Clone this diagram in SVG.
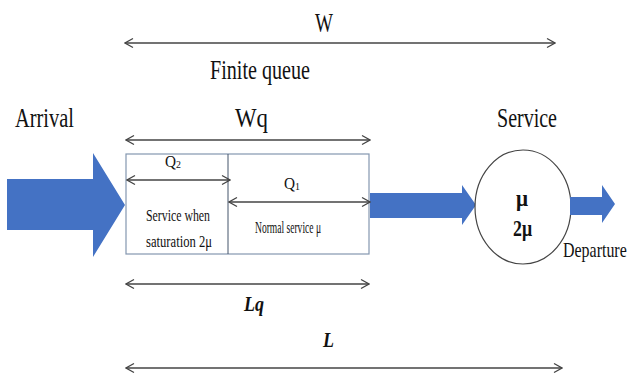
<svg xmlns="http://www.w3.org/2000/svg" width="631" height="376" viewBox="0 0 631 376">
<style>
text{font-family:"Liberation Serif","Times New Roman",serif;fill:#111}
.big{font-size:28px}
.sm{font-size:16px}
.q{font-size:17px}
.bi{font-size:21px;font-weight:bold;font-style:italic}
.mu{font-size:24px;font-weight:bold}
.dim{stroke:#444;stroke-width:1.5;fill:none}
.blue{fill:#4472c4}
</style>
<defs>
<marker id="ah" viewBox="0 0 10 10" refX="9" refY="5" markerWidth="10" markerHeight="10" markerUnits="userSpaceOnUse" orient="auto-start-reverse">
<path d="M1,0.5 L9,5 L1,9.5" fill="none" stroke="#444" stroke-width="1.2"/>
</marker>
</defs>
<rect width="631" height="376" fill="#fff"/>

<g id="arrival-arrow">
<polygon class="blue" points="7,179 93,179 93,153 125,205 93,257 93,230 7,230"/>
</g>
<g id="queue">
<rect x="126" y="154" width="243" height="100" fill="#fff" stroke="#8497b0" stroke-width="1.2"/>
<line x1="228" y1="154" x2="228" y2="254" stroke="#44546a" stroke-width="1"/>
<text class="q" x="165" y="167" textLength="16" lengthAdjust="spacingAndGlyphs">Q<tspan font-size="11" dy="1">2</tspan></text>
<text class="q" x="284" y="189" textLength="16" lengthAdjust="spacingAndGlyphs">Q<tspan font-size="11" dy="1">1</tspan></text>
<text class="sm" x="146" y="221" textLength="64" lengthAdjust="spacingAndGlyphs">Service when</text>
<text class="sm" x="146" y="247" textLength="66" lengthAdjust="spacingAndGlyphs">saturation 2μ</text>
<text class="sm" x="255" y="233" textLength="66" lengthAdjust="spacingAndGlyphs">Normal service μ</text>
</g>
<g id="mid-arrow">
<polygon class="blue" points="370,193 462,193 462,185 476,205 462,225 462,218 370,218"/>
</g>
<g id="server">
<ellipse cx="523" cy="207" rx="48" ry="57" fill="#fff" stroke="#444" stroke-width="1.2"/>
<text class="mu" x="516" y="206" textLength="12" lengthAdjust="spacingAndGlyphs">μ</text>
<text class="mu" x="513" y="236" textLength="19" lengthAdjust="spacingAndGlyphs">2μ</text>
</g>
<g id="departure-arrow">
<polygon class="blue" points="570,197 602,197 602,185 615,204 602,223 602,215 570,215"/>
</g>

<g id="connectors">
<line class="dim" x1="125" y1="43" x2="555" y2="43" marker-start="url(#ah)" marker-end="url(#ah)"/>
<line class="dim" x1="126" y1="140" x2="370" y2="140" marker-start="url(#ah)" marker-end="url(#ah)"/>
<line class="dim" x1="127" y1="180" x2="230" y2="180" marker-start="url(#ah)" marker-end="url(#ah)"/>
<line class="dim" x1="229" y1="202" x2="370" y2="202" marker-start="url(#ah)" marker-end="url(#ah)"/>
<line class="dim" x1="126" y1="284" x2="369" y2="284" stroke-width="2" marker-start="url(#ah)" marker-end="url(#ah)"/>
<line class="dim" x1="126" y1="368" x2="562" y2="368" marker-start="url(#ah)" marker-end="url(#ah)"/>
</g>

<g id="labels">
<text class="big" x="315" y="32" textLength="18" lengthAdjust="spacingAndGlyphs">W</text>
<text class="big" x="210" y="79" textLength="100" lengthAdjust="spacingAndGlyphs">Finite queue</text>
<text class="big" x="15" y="127" textLength="59" lengthAdjust="spacingAndGlyphs">Arrival</text>
<text class="big" x="235" y="127" textLength="33" lengthAdjust="spacingAndGlyphs">Wq</text>
<text class="big" x="497" y="127" textLength="60" lengthAdjust="spacingAndGlyphs">Service</text>
<text transform="translate(563,257) scale(0.76,1)" font-size="21">Departure</text>
<text class="bi" x="244" y="311" textLength="20" lengthAdjust="spacingAndGlyphs">Lq</text>
<text class="bi" x="323" y="347" textLength="11" lengthAdjust="spacingAndGlyphs">L</text>
</g>
</svg>
